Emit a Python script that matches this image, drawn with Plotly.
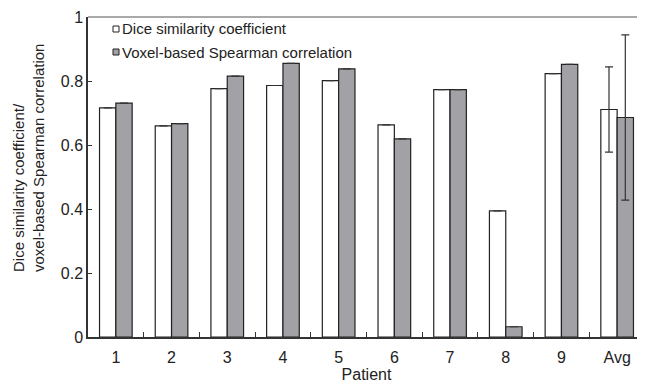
import plotly.graph_objects as go

categories = ["1", "2", "3", "4", "5", "6", "7", "8", "9", "Avg"]
dice = [0.716, 0.660, 0.776, 0.786, 0.801, 0.663, 0.773, 0.394, 0.823, 0.711]
spearman = [0.731, 0.667, 0.815, 0.855, 0.838, 0.619, 0.773, 0.032, 0.852, 0.686]
dice_err = [0, 0, 0, 0, 0, 0, 0, 0, 0, 0.133]
spearman_err = [0, 0, 0, 0, 0, 0, 0, 0, 0, 0.258]
series_names = ["Dice similarity coefficient", "Voxel-based Spearman correlation"]
series_colors = ["white", "#a2a2a6"]

font = "Liberation Sans, Arial, sans-serif"

fig = go.Figure()
for name, vals, errs, col in zip(series_names, [dice, spearman], [dice_err, spearman_err], series_colors):
    fig.add_trace(go.Bar(
        x=categories, y=vals, name=name, showlegend=False,
        marker=dict(color=col, line=dict(color="#222222", width=1.2)),
        error_y=dict(type="data", array=errs, visible=True, color="#333333", thickness=1.2, width=4),
    ))

# page body has an 8px margin; compensate so the plot lands at the reference pixels
OFF = 8
W, H = 645 - OFF, 384 - OFF
L, R, T, B = 88 - OFF, 0, 17 - OFF, 47
pw, ph = W - L - R, H - T - B
px = lambda x: (x - 88) / pw
py = lambda y: (337 - y) / ph

fig.update_layout(
    width=W, height=H,
    margin=dict(l=L, r=R, t=T, b=B),
    paper_bgcolor="white", plot_bgcolor="white",
    barmode="group", bargap=0.414, bargroupgap=0,
    font=dict(family=font, size=16, color="#222222"),
    showlegend=False,
    xaxis=dict(
        type="category", automargin=False, showline=True, linecolor="#333333", linewidth=1.5,
        ticks="inside", tickson="boundaries", ticklen=5, tickcolor="#333333",
        showgrid=False, zeroline=False, tickfont=dict(size=16), ticklabelstandoff=5,
        title=dict(text="Patient", standoff=0, font=dict(size=16)),
    ),
    yaxis=dict(
        automargin=False,
        range=[0, 1], tickvals=[0, 0.2, 0.4, 0.6, 0.8, 1],
        ticktext=["0", "0.2", "0.4", "0.6", "0.8", "1"],
        showline=True, linecolor="#333333", linewidth=1.5,
        ticks="inside", ticklen=4, tickcolor="#333333",
        showgrid=False, zeroline=False, tickfont=dict(size=16),
    ),
)
fig.add_shape(type="line", xref="paper", yref="paper", x0=0, x1=1, y0=1, y1=1,
              line=dict(color="#555555", width=1.2))

# y-axis title: two lines, start-aligned, rotated
fig.add_annotation(x=px(28), y=py(158), xref="paper", yref="paper",
                   text="Dice similarity coefficient/<br>voxel-based Spearman correlation",
                   showarrow=False, textangle=-90, align="left",
                   xanchor="center", yanchor="middle",
                   font=dict(size=15, color="#222222"))

# legend drawn manually (small square markers); positions in reference pixels
leg_y = [29, 52]
for (name, col, yy) in zip(series_names, series_colors, leg_y):
    fig.add_shape(type="rect", xref="paper", yref="paper", x0=px(113), x1=px(119),
                  y0=py(yy + 3), y1=py(yy - 3),
                  fillcolor=col, line=dict(color="#222222", width=1))
    fig.add_annotation(x=px(120), y=py(yy), xref="paper", yref="paper",
                       text=name, showarrow=False, xanchor="left", yanchor="middle",
                       font=dict(size=15, color="#222222"))

fig.write_html("out.html")
